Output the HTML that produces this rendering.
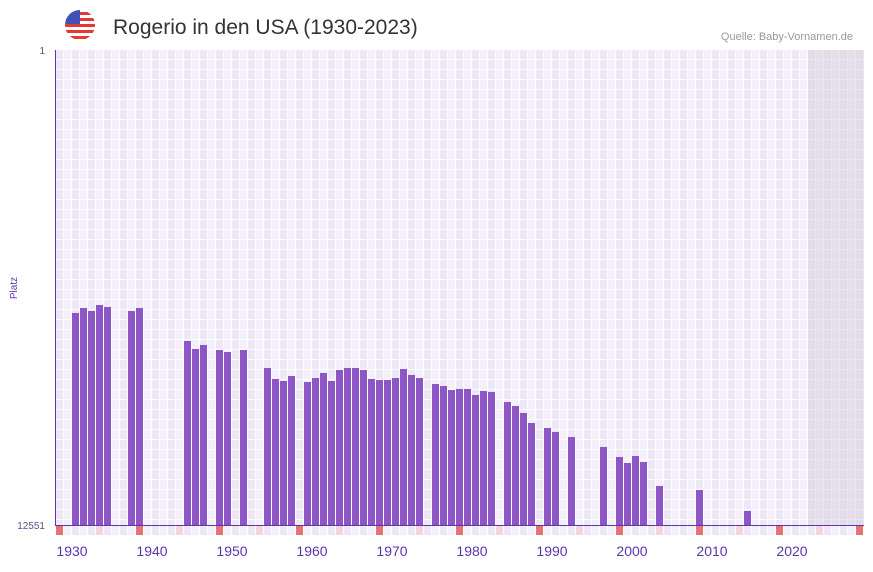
<!DOCTYPE html>
<html><head><meta charset="utf-8"><style>
body{margin:0;background:#fff;width:873px;height:567px;overflow:hidden;font-family:"Liberation Sans",sans-serif}
</style></head><body>
<svg width="873" height="567" xmlns="http://www.w3.org/2000/svg">
<defs>
<pattern id="g" x="56" y="50" width="16" height="10" patternUnits="userSpaceOnUse">
<rect width="8" height="10" fill="#ede7f7"/><rect x="8" width="8" height="10" fill="#f3effb"/>
<rect x="7" width="1" height="10" fill="#fff"/><rect x="15" width="1" height="10" fill="#fff"/>
<rect y="9" width="16" height="1" fill="#fff"/>
</pattern>
<pattern id="h" x="56" y="526" width="16" height="10" patternUnits="userSpaceOnUse">
<rect width="8" height="9" fill="#ede7f7"/><rect x="8" width="8" height="9" fill="#f3effb"/>
<rect x="7" width="1" height="10" fill="#fff"/><rect x="15" width="1" height="10" fill="#fff"/>
</pattern>
<clipPath id="c"><circle cx="80" cy="25" r="15"/></clipPath>
</defs>
<g clip-path="url(#c)">
<rect x="65" y="10" width="30" height="30" fill="#fff"/>
<rect x="65" y="12" width="30" height="3" fill="#e53935"/><rect x="65" y="18" width="30" height="3" fill="#e53935"/><rect x="65" y="24" width="30" height="3" fill="#e53935"/><rect x="65" y="30" width="30" height="3" fill="#e53935"/><rect x="65" y="36" width="30" height="3" fill="#e53935"/>
<rect x="65" y="10" width="15" height="14" fill="#3f51b5"/>
</g>
<text x="113" y="34" font-size="21" fill="#333" font-family="Liberation Sans,sans-serif">Rogerio in den USA (1930-2023)</text>
<text x="853" y="40" font-size="11" fill="#999" text-anchor="end">Quelle: Baby-Vornamen.de</text>
<rect x="56" y="50" width="808" height="475" fill="url(#g)"/>
<rect x="808" y="50" width="56" height="475" fill="#d8d2e0" opacity="0.55"/>
<rect x="56" y="526" width="808" height="9" fill="url(#h)"/>
<g fill="#e57373">
<rect x="56" y="526" width="7" height="9"/><rect x="136" y="526" width="7" height="9"/><rect x="216" y="526" width="7" height="9"/><rect x="296" y="526" width="7" height="9"/><rect x="376" y="526" width="7" height="9"/><rect x="456" y="526" width="7" height="9"/><rect x="536" y="526" width="7" height="9"/><rect x="616" y="526" width="7" height="9"/><rect x="696" y="526" width="7" height="9"/><rect x="776" y="526" width="7" height="9"/><rect x="856" y="526" width="7" height="9"/>
</g>
<g fill="#f5d5dd">
<rect x="96" y="526" width="7" height="9"/><rect x="176" y="526" width="7" height="9"/><rect x="256" y="526" width="7" height="9"/><rect x="336" y="526" width="7" height="9"/><rect x="416" y="526" width="7" height="9"/><rect x="496" y="526" width="7" height="9"/><rect x="576" y="526" width="7" height="9"/><rect x="656" y="526" width="7" height="9"/><rect x="736" y="526" width="7" height="9"/><rect x="816" y="526" width="7" height="9"/>
</g>
<g fill="#8e55c7">
<rect x="72" y="313" width="7" height="212"/><rect x="80" y="308" width="7" height="217"/><rect x="88" y="311" width="7" height="214"/><rect x="96" y="305" width="7" height="220"/><rect x="104" y="307" width="7" height="218"/>
<rect x="128" y="311" width="7" height="214"/><rect x="136" y="308" width="7" height="217"/>
<rect x="184" y="341" width="7" height="184"/><rect x="192" y="349" width="7" height="176"/><rect x="200" y="345" width="7" height="180"/>
<rect x="216" y="350" width="7" height="175"/><rect x="224" y="352" width="7" height="173"/><rect x="240" y="350" width="7" height="175"/>
<rect x="264" y="368" width="7" height="157"/><rect x="272" y="379" width="7" height="146"/><rect x="280" y="381" width="7" height="144"/><rect x="288" y="376" width="7" height="149"/>
<rect x="304" y="382" width="7" height="143"/><rect x="312" y="378" width="7" height="147"/><rect x="320" y="373" width="7" height="152"/><rect x="328" y="381" width="7" height="144"/><rect x="336" y="370" width="7" height="155"/><rect x="344" y="368" width="7" height="157"/><rect x="352" y="368" width="7" height="157"/><rect x="360" y="370" width="7" height="155"/><rect x="368" y="379" width="7" height="146"/><rect x="376" y="380" width="7" height="145"/><rect x="384" y="380" width="7" height="145"/><rect x="392" y="378" width="7" height="147"/><rect x="400" y="369" width="7" height="156"/><rect x="408" y="375" width="7" height="150"/><rect x="416" y="378" width="7" height="147"/>
<rect x="432" y="384" width="7" height="141"/><rect x="440" y="386" width="7" height="139"/><rect x="448" y="390" width="7" height="135"/><rect x="456" y="389" width="7" height="136"/><rect x="464" y="389" width="7" height="136"/><rect x="472" y="395" width="7" height="130"/><rect x="480" y="391" width="7" height="134"/><rect x="488" y="392" width="7" height="133"/>
<rect x="504" y="402" width="7" height="123"/><rect x="512" y="406" width="7" height="119"/><rect x="520" y="413" width="7" height="112"/><rect x="528" y="423" width="7" height="102"/>
<rect x="544" y="428" width="7" height="97"/><rect x="552" y="432" width="7" height="93"/><rect x="568" y="437" width="7" height="88"/>
<rect x="600" y="447" width="7" height="78"/><rect x="616" y="457" width="7" height="68"/><rect x="624" y="463" width="7" height="62"/><rect x="632" y="456" width="7" height="69"/><rect x="640" y="462" width="7" height="63"/>
<rect x="656" y="486" width="7" height="39"/><rect x="696" y="490" width="7" height="35"/><rect x="744" y="511" width="7" height="14"/>
</g>
<rect x="55" y="50" width="1" height="476" fill="#5e35b1"/>
<rect x="55" y="525" width="809" height="1" fill="#5e35b1"/>
<text x="45" y="54" font-size="10" fill="#5e4b8b" text-anchor="end">1</text>
<text x="45" y="529" font-size="10" fill="#5e4b8b" text-anchor="end">12551</text>
<text x="17" y="288" font-size="10" fill="#5e35b1" text-anchor="middle" transform="rotate(-90 17 288)">Platz</text>
<g font-size="14" fill="#5e35b1" text-anchor="middle">
<text x="72" y="556">1930</text><text x="152" y="556">1940</text><text x="232" y="556">1950</text><text x="312" y="556">1960</text><text x="392" y="556">1970</text><text x="472" y="556">1980</text><text x="552" y="556">1990</text><text x="632" y="556">2000</text><text x="712" y="556">2010</text><text x="792" y="556">2020</text>
</g>
</svg>
</body></html>
